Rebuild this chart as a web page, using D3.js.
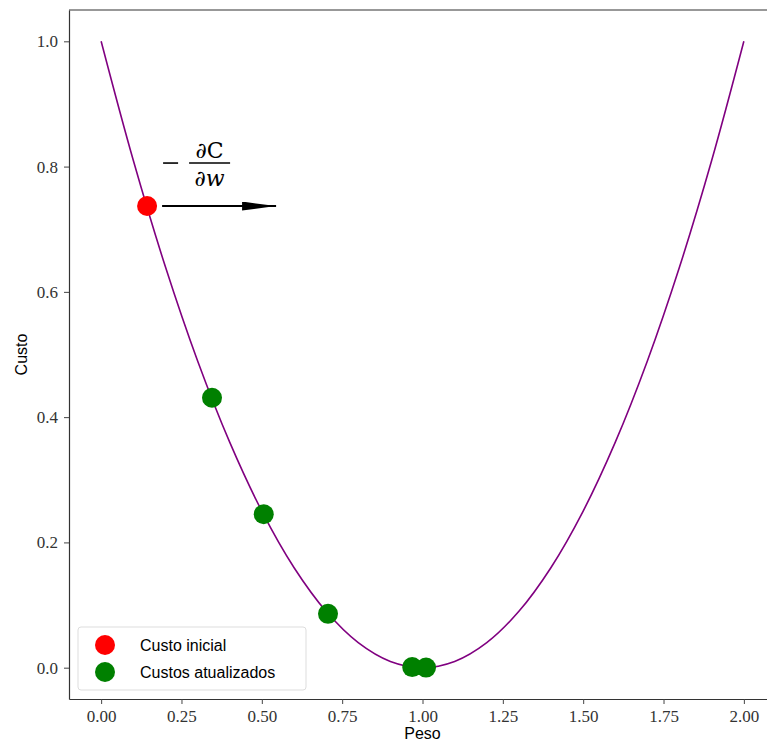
<!DOCTYPE html>
<html>
<head>
<meta charset="utf-8">
<script src="https://cdn.jsdelivr.net/npm/d3@7"></script>
<style>
  body { margin: 0; background: #fff; }
  svg { display: block; }
</style>
</head>
<body>
<svg width="767" height="746"></svg>
<script>
// curve
const curveX = [0, 0.1, 0.2, 0.3, 0.4, 0.5, 0.6, 0.7, 0.8, 0.9, 1.0, 1.1, 1.2, 1.3, 1.4, 1.5, 1.6, 1.7, 1.8, 1.9, 2.0];
const curveY = [1.0, 0.81, 0.64, 0.49, 0.36, 0.25, 0.16, 0.09, 0.04, 0.01, 0.0, 0.01, 0.04, 0.09, 0.16, 0.25, 0.36, 0.49, 0.64, 0.81, 1.0];

const startX = [0.143];
const startY = [0.737];
const updX = [0.345, 0.506, 0.706, 0.968, 1.011];
const updY = [0.431, 0.245, 0.086, 0.001, 0.0001];

const xTicks = [0, 0.25, 0.5, 0.75, 1.0, 1.25, 1.5, 1.75, 2.0];
const yTicks = [0, 0.2, 0.4, 0.6, 0.8, 1.0];

const legendLabels = ["Custo inicial", "Custos atualizados"];
const legendColors = ["#ff0000", "#008000"];

const svg = d3.select("svg");
const m = { left: 69, top: 10, right: 776, bottom: 699 };

const x = d3.scaleLinear().domain([-0.1, 2.1]).range([m.left, m.right]);
const y = d3.scaleLinear().domain([-0.05, 1.05]).range([m.bottom, m.top]);

const serif = "'Liberation Serif', 'DejaVu Serif', serif";
const sans = "'Liberation Sans', Arial, sans-serif";

// axes
const xAxis = svg.append("g")
    .attr("transform", `translate(0,${m.bottom})`)
    .call(d3.axisBottom(x).tickValues(xTicks).tickFormat(d3.format(".2f")).tickSize(5).tickSizeOuter(0).tickPadding(6));
const yAxis = svg.append("g")
    .attr("transform", `translate(${m.left},0)`)
    .call(d3.axisLeft(y).tickValues(yTicks).tickFormat(d3.format(".1f")).tickSize(5).tickSizeOuter(0).tickPadding(6));

[xAxis, yAxis].forEach(a => {
    a.selectAll("text").style("font-family", serif).style("font-size", "17px").attr("fill", "#333");
    a.selectAll("line").attr("stroke", "#444");
    a.select(".domain").attr("stroke", "#333").attr("stroke-width", 1.2);
});

// top spine
svg.append("line")
    .attr("x1", m.left).attr("x2", m.right)
    .attr("y1", m.top).attr("y2", m.top)
    .attr("stroke", "#333").attr("stroke-width", 1.2);

svg.append("text")
    .attr("x", (x(0) + x(2)) / 2).attr("y", 739)
    .attr("text-anchor", "middle")
    .style("font-family", sans).style("font-size", "16px")
    .text("Peso");

svg.append("text")
    .attr("transform", `translate(27,${(y(0) + y(1)) / 2}) rotate(-90)`)
    .attr("text-anchor", "middle")
    .style("font-family", sans).style("font-size", "16px")
    .text("Custo");

// cost curve
const pts = curveX.map((d, i) => [d, curveY[i]]);
svg.append("path")
    .datum(pts)
    .attr("fill", "none")
    .attr("stroke", "#800080")
    .attr("stroke-width", 1.6)
    .attr("d", d3.line().x(d => x(d[0])).y(d => y(d[1])).curve(d3.curveCatmullRom.alpha(0.5)));

// points
svg.selectAll(".upd")
    .data(updX.map((d, i) => [d, updY[i]]))
    .enter().append("circle")
    .attr("cx", d => x(d[0])).attr("cy", d => y(d[1]))
    .attr("r", 10).attr("fill", "#008000");

svg.selectAll(".start")
    .data(startX.map((d, i) => [d, startY[i]]))
    .enter().append("circle")
    .attr("cx", d => x(d[0])).attr("cy", d => y(d[1]))
    .attr("r", 10).attr("fill", "#ff0000");

// gradient arrow
svg.append("defs").append("marker")
    .attr("id", "arrow")
    .attr("viewBox", "0 -5 10 10")
    .attr("refX", 10).attr("refY", 0)
    .attr("markerUnits", "userSpaceOnUse")
    .attr("markerWidth", 34).attr("markerHeight", 9)
    .attr("orient", "auto")
    .attr("preserveAspectRatio", "none")
    .append("path")
    .attr("d", "M0,-5L10,0L0,5Z")
    .attr("fill", "#000");

const ax0 = x(startX[0]) + 15, ay = y(startY[0]);
svg.append("line")
    .attr("x1", ax0).attr("y1", ay)
    .attr("x2", ax0 + 114).attr("y2", ay)
    .attr("stroke", "#000").attr("stroke-width", 2)
    .attr("marker-end", "url(#arrow)");

// -dC/dw label
const lab = svg.append("g").attr("transform", `translate(${ax0},${ay - 43})`);
lab.append("line").attr("x1", 1).attr("x2", 16).attr("y1", 0).attr("y2", 0)
    .attr("stroke", "#000").attr("stroke-width", 1.6);
lab.append("line").attr("x1", 27).attr("x2", 68).attr("y1", 0).attr("y2", 0)
    .attr("stroke", "#000").attr("stroke-width", 1.6);
lab.append("text").attr("x", 47.5).attr("y", -5).attr("text-anchor", "middle")
    .style("font-family", "'DejaVu Serif', serif").style("font-size", "22px")
    .text("∂C");
lab.append("text").attr("x", 47.5).attr("y", 23).attr("text-anchor", "middle")
    .style("font-family", "'DejaVu Serif', serif").style("font-size", "22px")
    .html("∂<tspan font-style='italic'>w</tspan>");

// legend
const lg = svg.append("g").attr("transform", "translate(78,627)");
lg.append("rect").attr("width", 228).attr("height", 63).attr("rx", 3)
    .attr("fill", "#fff").attr("fill-opacity", 0.8)
    .attr("stroke", "#ddd");
legendLabels.forEach((t, i) => {
    lg.append("circle").attr("cx", 27).attr("cy", 18 + i * 27).attr("r", 10).attr("fill", legendColors[i]);
    lg.append("text").attr("x", 62).attr("y", 24 + i * 27)
        .style("font-family", sans).style("font-size", "16px")
        .text(t);
});
</script>
</body>
</html>
